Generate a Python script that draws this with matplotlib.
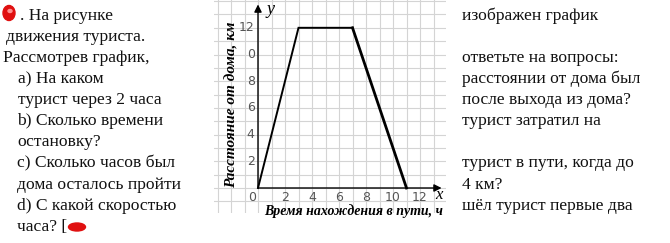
import matplotlib
matplotlib.use("Agg")
import matplotlib.pyplot as plt
from matplotlib.patches import Ellipse

# ---- data ----
time_h = [0, 3, 7, 11]
dist_km = [0, 12, 12, 0]
x_ticks = [0, 2, 4, 6, 8, 10, 12]
x_tick_labels = ["0", "2", "4", "6", "8", "10", "12"]
y_ticks = [2, 4, 6, 8, 10, 12]
y_tick_labels = ["2", "4", "6", "8", "0", "12"]
x_label = "Время нахождения в пути, ч"
y_label = "Расстояние от дома, км"

left_lines = [
    (20, ". На рисунке"),
    (6, "движения туриста."),
    (3, "Рассмотрев график,"),
    (18, "а) На каком"),
    (18, "турист через 2 часа"),
    (17, "b) Сколько времени"),
    (17, "остановку?"),
    (17, "с) Сколько часов был"),
    (17, "дома осталось пройти"),
    (17, "d) С какой скоростью"),
    (17, "часа? ["),
]
right_lines = [
    "изображен график",
    "",
    "ответьте на вопросы:",
    "расстоянии от дома был",
    "после выхода из дома?",
    "турист затратил на",
    "",
    "турист в пути, когда до",
    "4 км?",
    "шёл турист первые два",
]

W, H = 670, 243
fig = plt.figure(figsize=(W / 100, H / 100), dpi=100)
fig.patch.set_facecolor("white")

def fx(px):
    return px / W

def fy(py):
    return 1 - py / H

# ---- chart axes (pixel geometry) ----
ox, oy = 258.0, 188.0      # origin in pixels
ux, uy = 13.5, 13.35       # pixels per unit
ax_l, ax_r, ax_t, ax_b = 214, 446, 0, 213
ax = fig.add_axes([fx(ax_l), fy(ax_b), (ax_r - ax_l) / W, (ax_b - ax_t) / H])
ax.set_xlim((ax_l - ox) / ux, (ax_r - ox) / ux)
ax.set_ylim((oy - ax_b) / uy, (oy - ax_t) / uy)
ax.axis("off")

for gx in range(-3, 14):
    ax.axvline(gx, color="#d4d4d4", lw=0.8, zorder=0)
for gy in range(-1, 15):
    ax.axhline(gy, color="#d4d4d4", lw=0.8, zorder=0)

# axes with arrows
ax.annotate("", xy=(0, 13.75), xytext=(0, 0),
            arrowprops=dict(arrowstyle="-|>", color="black", lw=1.0,
                            mutation_scale=11, shrinkA=0, shrinkB=0))
ax.annotate("", xy=(13.6, 0), xytext=(0, 0),
            arrowprops=dict(arrowstyle="-|>", color="black", lw=1.0,
                            mutation_scale=11, shrinkA=0, shrinkB=0))

# graph
ax.plot(time_h[:3], dist_km[:3], color="black", lw=1.4, solid_joinstyle="miter")
ax.plot(time_h[2:], dist_km[2:], color="black", lw=2.0)

tick_font = dict(fontsize=9, color="#555555", family="DejaVu Sans")
for t, lab in zip(x_ticks, x_tick_labels):
    xpos = t if t != 0 else -0.45
    ax.text(xpos, -0.68, lab, ha="center", va="center", **tick_font)
for t, lab in zip(y_ticks, y_tick_labels):
    ax.text(-0.25, t, lab, ha="right", va="center", **tick_font)

serif = "Liberation Serif"
ax.text(0.9, 13.35, "y", fontsize=13, style="italic", family=serif, ha="center", va="center")
ax.text(13.4, -0.55, "x", fontsize=12, style="italic", family=serif, ha="center", va="center")
ax.text(-1.9, 6.2, y_label, rotation=90, fontsize=11, style="italic",
        weight="bold", family=serif, ha="center", va="center")
ax.text(7.05, -1.75, x_label, fontsize=10, style="italic",
        weight="bold", family=serif, ha="center", va="center")

# ---- surrounding text ----
base0, step = 20.0, 21.07
fs = 12.6
for i, (x0, s) in enumerate(left_lines):
    fig.text(fx(x0), fy(base0 + i * step), s, fontsize=fs, family=serif,
             ha="left", va="baseline", color="#111111")
for i, s in enumerate(right_lines):
    if s:
        fig.text(fx(462), fy(base0 + i * step), s, fontsize=fs, family=serif,
                 ha="left", va="baseline", color="#111111")

# red marks
overlay = fig.add_axes([0, 0, 1, 1])
overlay.set_xlim(0, W)
overlay.set_ylim(H, 0)
overlay.axis("off")
overlay.add_patch(Ellipse((9, 13), 12, 15, color="#e01010"))
overlay.add_patch(Ellipse((10, 11), 4, 3, color="#ff9090"))
overlay.add_patch(Ellipse((77, 227), 17, 8, color="#e01010"))

fig.savefig("out.png", dpi=100, facecolor="white")
